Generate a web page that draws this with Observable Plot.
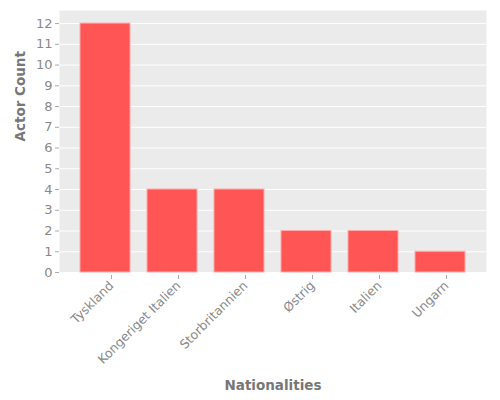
<!DOCTYPE html>
<html><head><meta charset="utf-8">
<script src="https://cdn.jsdelivr.net/npm/d3@7"></script>
<script src="https://cdn.jsdelivr.net/npm/@observablehq/plot@0.6"></script>
<style>body{margin:0;background:#fff;font-family:"DejaVu Sans",sans-serif}</style>
</head><body><div id="chart"></div>
<script>
const nationalities = ["Tyskland","Kongeriget Italien","Storbritannien","Østrig","Italien","Ungarn"];
const counts = [12,4,4,2,2,1];
const yTicks = [0,1,2,3,4,5,6,7,8,9,10,11,12];
const data = nationalities.map((n,i)=>({n, c: counts[i]}));
const chart = Plot.plot({
  width: 500, height: 400,
  marginLeft: 59, marginRight: 14, marginTop: 10, marginBottom: 128,
  style: {fontFamily: "DejaVu Sans", fontSize: "12px", color: "#888", background: "#fff"},
  x: {domain: nationalities, paddingInner: 0.25, paddingOuter: 0.3, label: null},
  y: {domain: [0, 12.63], label: null},
  marks: [
    Plot.frame({fill: "#ebebeb", stroke: null}),
    Plot.gridY(yTicks, {stroke: "#fff", strokeOpacity: 1, strokeWidth: 1}),
    Plot.barY(data, {x: "n", y: "c", fill: "#ff5555", stroke: "#ffaaaa", strokeWidth: 1}),
    Plot.axisY(yTicks, {tickSize: 4, tickPadding: 3, stroke: "#aaa", fill: "#888", fontSize: 13, label: null}),
    Plot.axisX({tickSize: 4, tickPadding: 4, tickRotate: -45, stroke: "#aaa", fill: "#888", fontSize: 12.5, dx: 6, dy: 3, label: null}),
    Plot.text(["Actor Count"], {frameAnchor: "left", dx: -39, rotate: -90, fontSize: 13.5, fontWeight: "bold", fill: "#777"}),
    Plot.text(["Nationalities"], {frameAnchor: "bottom", dy: 117, fontSize: 13.5, fontWeight: "bold", fill: "#777"})
  ]
});
document.getElementById("chart").appendChild(chart);
</script></body></html>
